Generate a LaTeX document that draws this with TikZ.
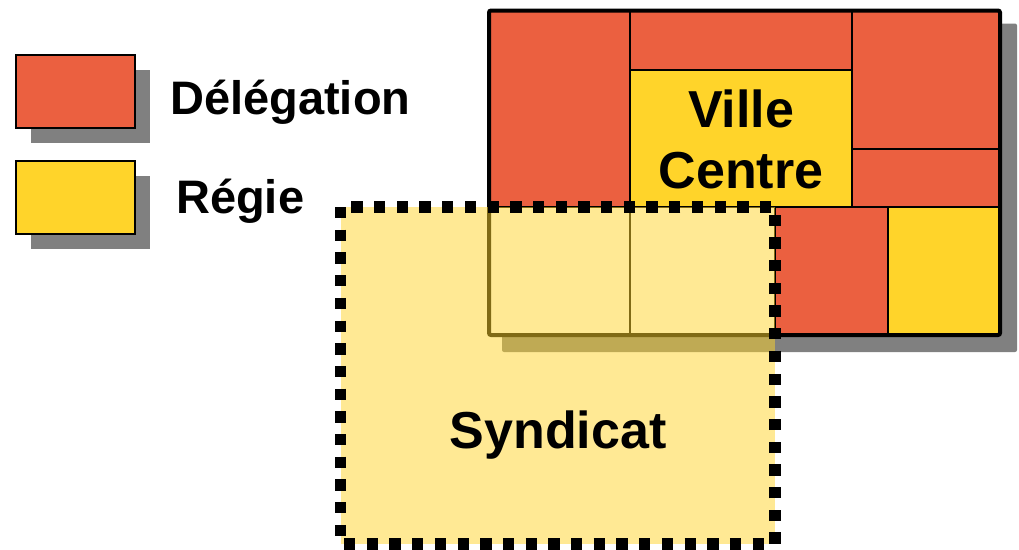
\documentclass[tikz,border=0pt]{standalone}
\usepackage{fontspec}
\setmainfont{Liberation Sans}
\usepackage{xcolor}
\usepackage{tikz}
\usetikzlibrary{positioning}
\usetikzlibrary{shadows}
\definecolor{rouge}{HTML}{EB6040}
\definecolor{jaune}{HTML}{FFD42A}
\tikzset{
  ombre/.style = {fill=black!50, rounded corners=2pt},% ombre portee
  case/.style = {draw=black, line width=1.5pt},
  deleg/.style = {case, fill=rouge},% case en delegation
  regie/.style = {case, fill=jaune},% case en regie
  vide/.style = {case, fill=white},% case hors syndicat
  legende/.style = {rectangle, draw=black, line width=2pt, inner sep=0pt,
    minimum width=119pt, minimum height=73pt,
    drop shadow={shadow xshift=15pt, shadow yshift=-15pt, fill=black!50, opacity=1}},
  etiquette/.style = {inner sep=0pt, anchor=base west,
    font=\bfseries\fontsize{47}{52}\selectfont},
  titre/.style = {inner sep=0pt, align=center,
    font=\bfseries\fontsize{52}{61}\selectfont},
  syndic/.style = {fill=jaune, fill opacity=0.5},% syndicat, transparent
  pointille/.style = {draw=black, line width=11.3pt, dash pattern=on 11.3pt off 11.4pt}
}

\begin{document}
\begin{tikzpicture}[x=1pt, y=-1pt]
\useasboundingbox (0,0) rectangle (1019,549);

% legende
\node [legende, fill=rouge] (boxdeleg) at (75.5,91.5) {};
\node [legende, fill=jaune] (boxregie) at (75.5,197) {};
\node [etiquette] (txtdeleg) at (170,114) {Délégation};
\node [etiquette] (txtregie) at (176,213) {Régie};

% carte des communes
\fill [ombre] (502,23.5) rectangle (1017,352);
\draw [deleg] (489,10.5) rectangle (630,207);
\draw [deleg] (630,10.5) rectangle (852,70);
\draw [regie] (630,70) rectangle (852,207);
\draw [deleg] (852,10.5) rectangle (1000,149);
\draw [deleg] (852,149) rectangle (1000,207);
\draw [vide] (489,207) rectangle (630,335);
\draw [vide] (630,207) rectangle (775,335);
\draw [deleg] (775,207) rectangle (888,335);
\draw [regie] (888,207) rectangle (1000,335);
\draw [line width=4pt, rounded corners=2pt] (489,10.5) rectangle (1000,335);
\node [titre] (ville) at (741,139.5) {Ville\\Centre};

% syndicat
\fill [syndic] (340.5,207) rectangle (775,544);
\draw [pointille] (340.5,207) rectangle (775,544);
\node [titre, anchor=base] (syndicat) at (558,448) {Syndicat};
\end{tikzpicture}
\end{document}
